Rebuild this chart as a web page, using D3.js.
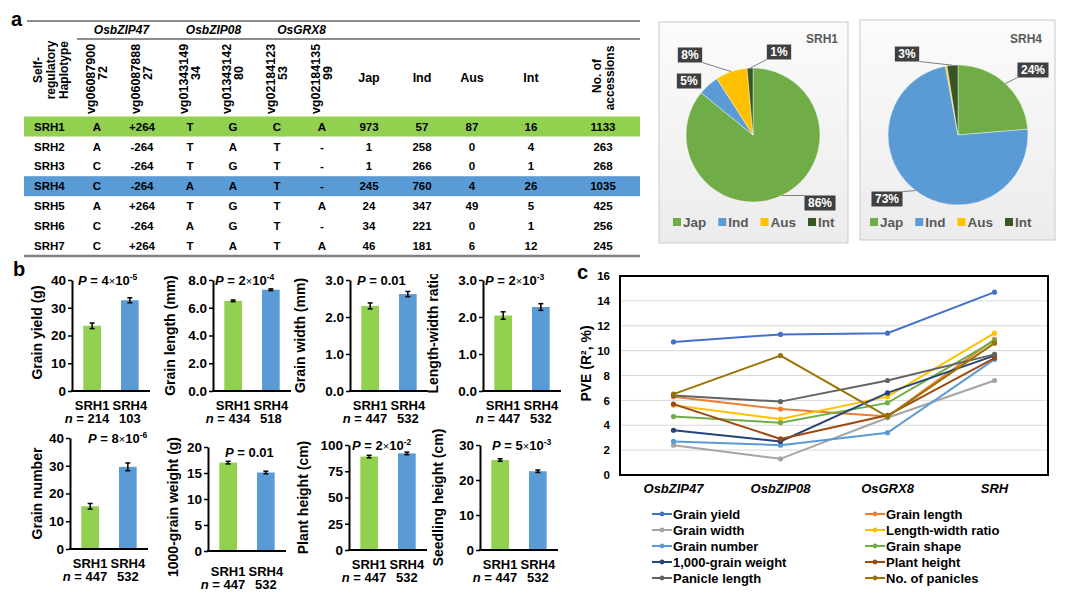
<!DOCTYPE html>
<html>
<head>
<meta charset="utf-8">
<script src="https://cdn.jsdelivr.net/npm/d3@7"></script>
<style>
  body { margin: 0; background: #fff; }
  svg { font-family: "Liberation Sans", Arial, sans-serif; font-weight: bold; }
</style>
</head>
<body>
<svg id="fig" width="1070" height="605"></svg>
<script>
// ---------------- data ----------------
// panel a: haplotype table
const haplotypes = ['SRH1', 'SRH2', 'SRH3', 'SRH4', 'SRH5', 'SRH6', 'SRH7'];
const snpIds = ['vg0608790072', 'vg0608788827', 'vg0134314934', 'vg0134314280', 'vg0218412353', 'vg0218413599'];
const genes = ['OsbZIP47', 'OsbZIP08', 'OsGRX8'];
const snp1 = ['A', 'A', 'C', 'C', 'A', 'C', 'C'];
const snp2 = ['+264', '-264', '-264', '-264', '+264', '-264', '+264'];
const snp3 = ['T', 'T', 'T', 'A', 'T', 'A', 'T'];
const snp4 = ['G', 'A', 'G', 'A', 'G', 'G', 'A'];
const snp5 = ['C', 'T', 'T', 'T', 'T', 'T', 'T'];
const snp6 = ['A', '-', '-', '-', 'A', '-', 'A'];
const groups = ['Jap', 'Ind', 'Aus', 'Int'];
const jap = [973, 1, 1, 245, 24, 34, 46];
const ind = [57, 258, 266, 760, 347, 221, 181];
const aus = [87, 0, 0, 4, 49, 0, 6];
const intr = [16, 4, 1, 26, 5, 1, 12];
const accessions = [1133, 263, 268, 1035, 425, 256, 245];

// panel b: trait means SRH1 vs SRH4
const traitLabels = ['Grain yield (g)', 'Grain length (mm)', 'Grain width (mm)', 'Length-width ratio',
  'Grain number', '1000-grain weight (g)', 'Plant height (cm)', 'Seedling height (cm)'];
const srh1Mean = [23.5, 6.5, 2.3, 2.04, 15.4, 17.0, 89, 25.7];
const srh4Mean = [32.7, 7.3, 2.62, 2.27, 29.6, 15.1, 92, 22.5];
const srh1Err = [1.0, 0.06, 0.08, 0.1, 1.0, 0.25, 1.2, 0.35];
const srh4Err = [0.9, 0.06, 0.07, 0.09, 1.4, 0.25, 1.2, 0.35];
const yMax = [40, 8, 3, 3, 40, 20, 100, 30];
const yStep = [10, 2, 1, 1, 10, 5, 25, 10];
const yDigits = [0, 1, 1, 1, 0, 0, 0, 0];
const pBase = ['4', '2', '0.01', '2', '8', '0.01', '2', '5'];
const pExp = ['-5', '-4', null, '-3', '-6', null, '-2', '-3'];
const nSrh1 = [214, 434, 447, 447, 447, 447, 447, 447];
const nSrh4 = [103, 518, 532, 532, 532, 532, 532, 532];

// panel c: PVE per locus
const loci = ['OsbZIP47', 'OsbZIP08', 'OsGRX8', 'SRH'];
const pveGrainYield = [10.7, 11.3, 11.4, 14.7];
const pveGrainLength = [6.3, 5.3, 4.7, 10.9];
const pveGrainWidth = [2.4, 1.3, 4.6, 7.6];
const pveLwRatio = [5.6, 4.5, 6.3, 11.4];
const pveGrainNumber = [2.7, 2.4, 3.4, 9.3];
const pveGrainShape = [4.7, 4.2, 5.8, 10.8];
const pveTgw = [3.6, 2.7, 6.6, 9.6];
const pvePlantHeight = [5.7, 2.9, 4.8, 9.4];
const pvePanicleLength = [6.4, 5.9, 7.6, 9.7];
const pvePanicleNo = [6.5, 9.6, 4.7, 10.6];

const svg = d3.select('#fig');
const GREEN = '#92d050', BLUE = '#5b9bd5';

// ---------------- panel a: table ----------------
const colX = [97, 142, 190, 233, 277, 322, 369, 422, 472, 531, 603];
const rowY = i => 126.5 + 19.9 * i;

svg.append('text').attr('x', 11).attr('y', 26).attr('font-size', 20).text('a');

const tbl = svg.append('g');
tbl.append('line').attr('x1', 27).attr('x2', 640).attr('y1', 21).attr('y2', 21)
  .attr('stroke', '#8c8c8c').attr('stroke-width', 2);
tbl.append('line').attr('x1', 77).attr('x2', 640).attr('y1', 39).attr('y2', 39)
  .attr('stroke', '#8c8c8c').attr('stroke-width', 2);

tbl.selectAll('.gene').data(genes).join('text')
  .attr('x', (d, i) => (colX[i * 2] + colX[i * 2 + 1]) / 2 + 2)
  .attr('y', 34).attr('text-anchor', 'middle')
  .attr('font-size', 12).attr('font-style', 'italic').text(d => d);

// rotated headers
const rot = (x, y, txt, size) => tbl.append('text')
  .attr('transform', `translate(${x},${y}) rotate(-90)`)
  .attr('text-anchor', 'middle').attr('dominant-baseline', 'central')
  .attr('font-size', size).text(txt);

['Self-', 'regulatory', 'Haplotype'].forEach((t, i) => rot(38 + i * 13, 70, t, 12));
snpIds.forEach((id, i) => {
  rot(colX[i] - 6, 79, id.slice(0, 10), 12.5);
  rot(colX[i] + 6, 73, id.slice(10), 12.5);
});
groups.forEach((g, i) => tbl.append('text').attr('x', colX[6 + i]).attr('y', 82)
  .attr('text-anchor', 'middle').attr('font-size', 12.5).text(g));
rot(colX[10] - 6, 76, 'No. of', 12);
rot(colX[10] + 7, 78, 'accessions', 12);

// row bands
tbl.append('rect').attr('x', 24).attr('width', 616).attr('y', rowY(0) - 10).attr('height', 20).attr('fill', GREEN);
tbl.append('rect').attr('x', 24).attr('width', 616).attr('y', rowY(3) - 10).attr('height', 20).attr('fill', BLUE);
tbl.append('line').attr('x1', 24).attr('x2', 640).attr('y1', 256).attr('y2', 256)
  .attr('stroke', '#808080').attr('stroke-width', 2.5);

const cols = [snp1, snp2, snp3, snp4, snp5, snp6, jap, ind, aus, intr, accessions];
haplotypes.forEach((h, r) => {
  const g = tbl.append('g').attr('font-size', 11.5);
  g.append('text').attr('x', 34).attr('y', rowY(r)).attr('dy', '0.36em').text(h);
  cols.forEach((c, j) => g.append('text').attr('x', colX[j]).attr('y', rowY(r)).attr('dy', '0.36em')
    .attr('text-anchor', 'middle').text(c[r]));
});

// ---------------- panel a: pies ----------------
const pieColors = ['#70ad47', '#5b9bd5', '#ffc000', '#375623'];
const defs = svg.append('defs');
const grad = defs.append('linearGradient').attr('id', 'pieBg').attr('x1', 0).attr('x2', 0).attr('y1', 0).attr('y2', 1);
grad.append('stop').attr('offset', '0%').attr('stop-color', '#fbfbfb');
grad.append('stop').attr('offset', '100%').attr('stop-color', '#ececec');

const pieLayout = [
  { row: 0, bx: 659, by: 22, bw: 189, bh: 221, cx: 753, cy: 135, r: 67, titleX: 838,
    labels: [[820, 203], [689, 81], [690, 55], [779, 52]], legendX: 673 },
  { row: 3, bx: 860, by: 20, bw: 195, bh: 220, cx: 958, cy: 135, r: 70, titleX: 1042,
    labels: [[1033, 70], [887, 199], null, [907, 54]], legendX: 870 }
];

pieLayout.forEach(p => {
  const vals = [jap[p.row], ind[p.row], aus[p.row], intr[p.row]];
  const total = d3.sum(vals);
  const g = svg.append('g');
  g.append('rect').attr('x', p.bx).attr('y', p.by).attr('width', p.bw).attr('height', p.bh)
    .attr('fill', 'url(#pieBg)').attr('stroke', '#c9c9c9').attr('stroke-width', 1);
  g.append('text').attr('x', p.titleX).attr('y', 43).attr('text-anchor', 'end')
    .attr('font-size', 12).attr('fill', '#595959').text(haplotypes[p.row]);

  const arcs = d3.pie().sort(null)(vals);
  const arc = d3.arc().innerRadius(0).outerRadius(p.r);
  const pg = g.append('g').attr('transform', `translate(${p.cx},${p.cy})`);
  pg.selectAll('path').data(arcs).join('path')
    .attr('d', arc).attr('fill', (d, i) => pieColors[i])
    .attr('stroke', '#fff').attr('stroke-width', 0.4);

  arcs.forEach((a, i) => {
    const pos = p.labels[i];
    if (!pos) return;
    const txt = Math.round(a.value / total * 100) + '%';
    const t = g.append('text').attr('x', pos[0]).attr('y', pos[1]).attr('dy', '0.36em')
      .attr('text-anchor', 'middle').attr('font-size', 12).attr('fill', '#fff').text(txt);
    const w = t.node().getComputedTextLength() + 7, h = 15;
    const x0 = pos[0] - w / 2, y0 = pos[1] - h / 2;
    g.insert('rect', () => t.node()).attr('x', x0).attr('y', y0).attr('width', w).attr('height', h)
      .attr('fill', '#404040');
    // leader line from slice mid-angle on rim to nearest box point
    const m = (a.startAngle + a.endAngle) / 2;
    const ex = p.cx + Math.sin(m) * p.r, ey = p.cy - Math.cos(m) * p.r;
    const nx = Math.max(x0, Math.min(x0 + w, ex)), ny = Math.max(y0, Math.min(y0 + h, ey));
    if (Math.hypot(nx - ex, ny - ey) > 8) {
      g.append('line').attr('x1', ex).attr('y1', ey).attr('x2', nx).attr('y2', ny)
        .attr('stroke', '#7f7f7f').attr('stroke-width', 1);
    }
  });

  // legend
  let lx = p.legendX;
  groups.forEach((name, i) => {
    g.append('rect').attr('x', lx).attr('y', 218).attr('width', 8).attr('height', 8).attr('fill', pieColors[i]);
    const t = g.append('text').attr('x', lx + 10).attr('y', 222).attr('dy', '0.36em')
      .attr('font-size', 13.5).attr('fill', '#595959').text(name);
    lx += 10 + t.node().getComputedTextLength() + 12;
  });
});

// ---------------- panel b: bar charts ----------------
svg.append('text').attr('x', 13).attr('y', 276).attr('font-size', 20).text('b');

const barAxisX = [72, 213, 350, 483, 70, 208, 349, 480];
const barTop = [280, 280, 280, 280, 438, 447, 445, 445];
const barBottom = [391, 391, 391, 391, 549, 551, 550, 550];
const ylabX = [37, 170, 300, 433, 37, 173, 303, 438];
const ylabShift = [-3, 0, 0, -3, 0, 8, 0, 0];
const pX = [78, 215, 357, 485, 88, 225, 352, 492];
const pShift = [0, 0, 0, 0, 0, 5, 0, 0];
const labShift = [0, 0, 0, 0, 0, 6, 0, 0];

// the length-width title is cut at the top in the original panel
const clip = defs.append('clipPath').attr('id', 'belowTable');
clip.append('rect').attr('x', 0).attr('y', 274).attr('width', 1070).attr('height', 400);

traitLabels.forEach((lab, k) => {
  const g = svg.append('g');
  const ax = barAxisX[k], top = barTop[k], bot = barBottom[k], len = 78;
  const y = d3.scaleLinear().domain([0, yMax[k]]).range([bot, top]);
  const x = d3.scaleBand().domain(['SRH1', 'SRH4']).range([ax, ax + len]).paddingInner(0.53).paddingOuter(0.3);
  const means = [srh1Mean[k], srh4Mean[k]], errs = [srh1Err[k], srh4Err[k]];

  g.selectAll('rect').data(['SRH1', 'SRH4']).join('rect')
    .attr('x', d => x(d)).attr('width', x.bandwidth())
    .attr('y', (d, i) => y(means[i])).attr('height', (d, i) => bot - y(means[i]))
    .attr('fill', (d, i) => i === 0 ? GREEN : BLUE);

  ['SRH1', 'SRH4'].forEach((d, i) => {
    const cx = x(d) + x.bandwidth() / 2;
    const y1 = y(means[i] + errs[i]), y2 = y(means[i] - errs[i]);
    g.append('line').attr('x1', cx).attr('x2', cx).attr('y1', y1).attr('y2', y2).attr('stroke', '#000').attr('stroke-width', 1.5);
    [y1, y2].forEach(yy => g.append('line').attr('x1', cx - 2.5).attr('x2', cx + 2.5).attr('y1', yy).attr('y2', yy)
      .attr('stroke', '#000').attr('stroke-width', 1.5));
  });

  const ticks = d3.range(0, yMax[k] + 1e-9, yStep[k]);
  const axis = g.append('g').attr('transform', `translate(${ax},0)`)
    .call(d3.axisLeft(y).tickValues(ticks).tickSize(4).tickSizeOuter(0).tickFormat(d3.format(`.${yDigits[k]}f`)));
  axis.select('.domain').attr('stroke-width', 2);
  axis.selectAll('.tick line').attr('stroke-width', 1.5);
  axis.selectAll('.tick text').attr('font-size', 13.5).attr('fill', '#000').attr('x', -6);
  axis.attr('font-family', null).attr('font-size', null);
  g.append('line').attr('x1', ax - 1).attr('x2', ax + len).attr('y1', bot).attr('y2', bot)
    .attr('stroke', '#000').attr('stroke-width', 2);

  const lg = g.append('g');
  if (k === 3) lg.attr('clip-path', 'url(#belowTable)');
  lg.append('text')
    .attr('transform', `translate(${ylabX[k]},${(top + bot) / 2 + ylabShift[k]}) rotate(-90)`)
    .attr('text-anchor', 'middle').attr('dominant-baseline', 'central')
    .attr('font-size', 14).text(lab);

  // P value
  const pt = g.append('text').attr('x', pX[k]).attr('y', top + 4.5 + pShift[k]).attr('font-size', 13);
  pt.append('tspan').attr('font-style', 'italic').text('P');
  if (pExp[k]) {
    pt.append('tspan').text(' = ' + pBase[k]);
    pt.append('tspan').attr('font-weight', 'normal').attr('font-size', 11).text('×');
    pt.append('tspan').text('10');
    pt.append('tspan').attr('font-size', 8.5).attr('dy', -5).text(pExp[k]);
  } else {
    pt.append('tspan').text(' = ' + pBase[k]);
  }

  // x labels and n
  const c1 = x('SRH1') + x.bandwidth() / 2, c4 = x('SRH4') + x.bandwidth() / 2;
  const ly = bot + 19 + labShift[k];
  g.append('text').attr('x', c1).attr('y', ly).attr('text-anchor', 'middle').attr('font-size', 13).text('SRH1');
  g.append('text').attr('x', c4).attr('y', ly).attr('text-anchor', 'middle').attr('font-size', 13).text('SRH4');
  const nt = g.append('text').attr('x', c1 + 17).attr('y', ly + 13).attr('text-anchor', 'end').attr('font-size', 13);
  nt.append('tspan').attr('font-style', 'italic').text('n');
  nt.append('tspan').text(' = ' + nSrh1[k]);
  g.append('text').attr('x', c4).attr('y', ly + 13).attr('text-anchor', 'middle').attr('font-size', 13).text(nSrh4[k]);
});

// ---------------- panel c: PVE lines ----------------
svg.append('text').attr('x', 577).attr('y', 279).attr('font-size', 20).text('c');

const series = [
  { name: 'Grain yield', values: pveGrainYield, color: '#4472c4' },
  { name: 'Grain length', values: pveGrainLength, color: '#ed7d31' },
  { name: 'Grain width', values: pveGrainWidth, color: '#a5a5a5' },
  { name: 'Length-width ratio', values: pveLwRatio, color: '#ffc000' },
  { name: 'Grain number', values: pveGrainNumber, color: '#5b9bd5' },
  { name: 'Grain shape', values: pveGrainShape, color: '#70ad47' },
  { name: '1,000-grain weight', values: pveTgw, color: '#264478' },
  { name: 'Plant height', values: pvePlantHeight, color: '#9e480e' },
  { name: 'Panicle length', values: pvePanicleLength, color: '#636363' },
  { name: 'No. of panicles', values: pvePanicleNo, color: '#997300' }
];

const L = 620, R = 1048, T = 276, B = 475;
const xc = d3.scalePoint().domain(loci).range([L, R]).padding(0.5);
const yc = d3.scaleLinear().domain([0, 16]).range([B, T]);
const gc = svg.append('g');

gc.append('g').selectAll('line').data(d3.range(2, 16, 2)).join('line')
  .attr('x1', L).attr('x2', R).attr('y1', d => yc(d)).attr('y2', d => yc(d))
  .attr('stroke', '#d9d9d9').attr('stroke-width', 1);

const line = d3.line().x((d, i) => xc(loci[i])).y(d => yc(d));
series.forEach(s => {
  gc.append('path').attr('d', line(s.values)).attr('fill', 'none')
    .attr('stroke', s.color).attr('stroke-width', 2);
  gc.append('g').selectAll('circle').data(s.values).join('circle')
    .attr('cx', (d, i) => xc(loci[i])).attr('cy', d => yc(d)).attr('r', 2.6).attr('fill', s.color);
});

gc.append('rect').attr('x', L).attr('y', T).attr('width', R - L).attr('height', B - T)
  .attr('fill', 'none').attr('stroke', '#000').attr('stroke-width', 2);

gc.append('g').selectAll('text').data(d3.range(0, 17, 2)).join('text')
  .attr('x', 610).attr('y', d => yc(d)).attr('dy', '0.36em').attr('text-anchor', 'end')
  .attr('font-size', 11.5).text(d => d);

gc.append('g').selectAll('text').data(loci).join('text')
  .attr('x', d => xc(d)).attr('y', 493).attr('text-anchor', 'middle')
  .attr('font-size', 13).attr('font-style', 'italic').text(d => d);

// y title
gc.append('text').attr('transform', `translate(586,${(T + B) / 2 - 12}) rotate(-90)`)
  .attr('text-anchor', 'middle').attr('dominant-baseline', 'central')
  .attr('font-size', 14).text('PVE (R², %)');

// legend, two columns
const legColX = [652, 865];
const legRowY = [514, 530, 546, 562, 578];
series.forEach((s, i) => {
  const lx = legColX[i % 2], ly = legRowY[Math.floor(i / 2)];
  gc.append('line').attr('x1', lx).attr('x2', lx + 20).attr('y1', ly).attr('y2', ly)
    .attr('stroke', s.color).attr('stroke-width', 2);
  gc.append('circle').attr('cx', lx + 10).attr('cy', ly).attr('r', 2.4).attr('fill', s.color);
  gc.append('text').attr('x', lx + 21).attr('y', ly).attr('dy', '0.36em').attr('font-size', 13).text(s.name);
});
</script>
</body>
</html>
